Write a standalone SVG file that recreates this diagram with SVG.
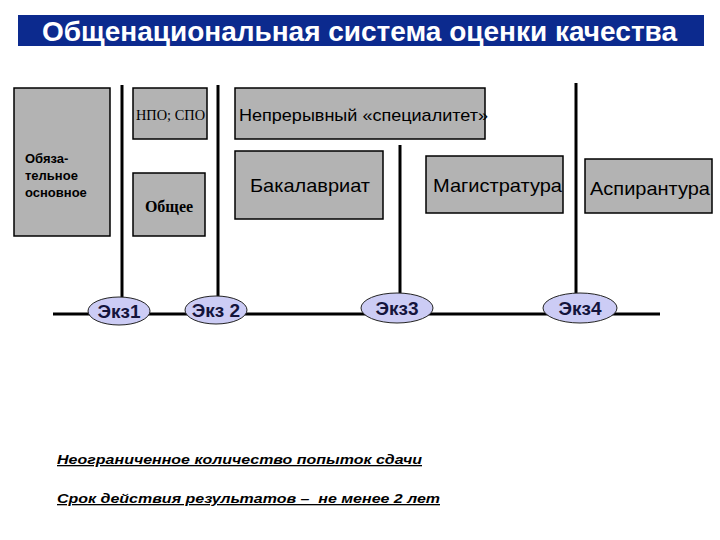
<svg xmlns="http://www.w3.org/2000/svg" width="720" height="540" viewBox="0 0 720 540">
<style>
.box{fill:#b3b3b3;stroke:#000;stroke-width:1.5}
.ex{fill:#ccccf5;stroke:#222;stroke-width:1}
.ln{stroke:#000;stroke-width:3;fill:none}
.s{font-family:"Liberation Sans",Arial,sans-serif;fill:#000}
.t{font-family:"Liberation Serif","Times New Roman",serif;fill:#000}
.e{font-family:"Liberation Sans",Arial,sans-serif;font-weight:bold;font-size:19px;fill:#14143c;text-anchor:middle}
.n{font-family:"Liberation Sans",Arial,sans-serif;font-weight:bold;font-style:italic;font-size:13px;fill:#000;text-decoration:underline}
</style>
<rect width="720" height="540" fill="#fff"/>
<g id="title">
<rect x="18" y="15" width="686" height="31" fill="#0c2a8e"/>
<text x="42" y="41" font-family="Liberation Sans,Arial,sans-serif" font-weight="bold" font-size="27" fill="#fff" textLength="635" lengthAdjust="spacingAndGlyphs">Общенациональная система оценки качества</text>
</g>
<g id="connectors">
<line class="ln" x1="122" y1="85" x2="122" y2="297"/>
<line class="ln" x1="218" y1="85" x2="218" y2="296"/>
<line class="ln" x1="400" y1="145" x2="400" y2="293"/>
<line class="ln" x1="576" y1="83" x2="576" y2="293"/>
<line class="ln" x1="53" y1="314" x2="660" y2="314"/>
</g>
<g id="obyaz">
<rect class="box" x="14" y="88" width="96" height="148"/>
<text class="s" font-size="13" font-weight="bold"><tspan x="25" y="163">Обяза-</tspan><tspan x="25" y="180">тельное</tspan><tspan x="25" y="197">основное</tspan></text>
</g>
<g id="npo">
<rect class="box" x="133" y="88" width="74" height="51"/>
<text class="t" x="136" y="120" font-size="14" textLength="69" lengthAdjust="spacingAndGlyphs">НПО; СПО</text>
</g>
<g id="obshee">
<rect class="box" x="133" y="173" width="72" height="63"/>
<text class="t" x="169" y="212" font-size="16" font-weight="bold" text-anchor="middle">Общее</text>
</g>
<g id="spec">
<rect class="box" x="235" y="88" width="250" height="51"/>
<text class="s" x="239" y="121" font-size="17" textLength="249" lengthAdjust="spacingAndGlyphs">Непрерывный «специалитет»</text>
</g>
<g id="bak">
<rect class="box" x="235" y="151" width="148" height="68"/>
<text class="s" x="250" y="192" font-size="19" textLength="120" lengthAdjust="spacingAndGlyphs">Бакалавриат</text>
</g>
<g id="mag">
<rect class="box" x="426" y="156" width="137" height="57"/>
<text class="s" x="433" y="192" font-size="19" textLength="129" lengthAdjust="spacingAndGlyphs">Магистратура</text>
</g>
<g id="asp">
<rect class="box" x="585" y="159" width="127" height="54"/>
<text class="s" x="590" y="195" font-size="19" textLength="120" lengthAdjust="spacingAndGlyphs">Аспирантура</text>
</g>
<g id="ekz1">
<ellipse class="ex" cx="119" cy="311" rx="31" ry="14"/>
<text class="e" x="119" y="318">Экз1</text>
</g>
<g id="ekz2">
<ellipse class="ex" cx="216" cy="310" rx="31" ry="14"/>
<text class="e" x="216" y="317">Экз 2</text>
</g>
<g id="ekz3">
<ellipse class="ex" cx="397" cy="308" rx="36" ry="15"/>
<text class="e" x="397" y="315">Экз3</text>
</g>
<g id="ekz4">
<ellipse class="ex" cx="580" cy="308" rx="37" ry="15"/>
<text class="e" x="580" y="315">Экз4</text>
</g>
<g id="notes">
<text class="n" x="57" y="464" textLength="365" lengthAdjust="spacingAndGlyphs">Неограниченное количество попыток сдачи</text>
<text class="n" x="57" y="503" textLength="383" lengthAdjust="spacingAndGlyphs" xml:space="preserve">Срок действия результатов –  не менее 2 лет</text>
</g>
</svg>
